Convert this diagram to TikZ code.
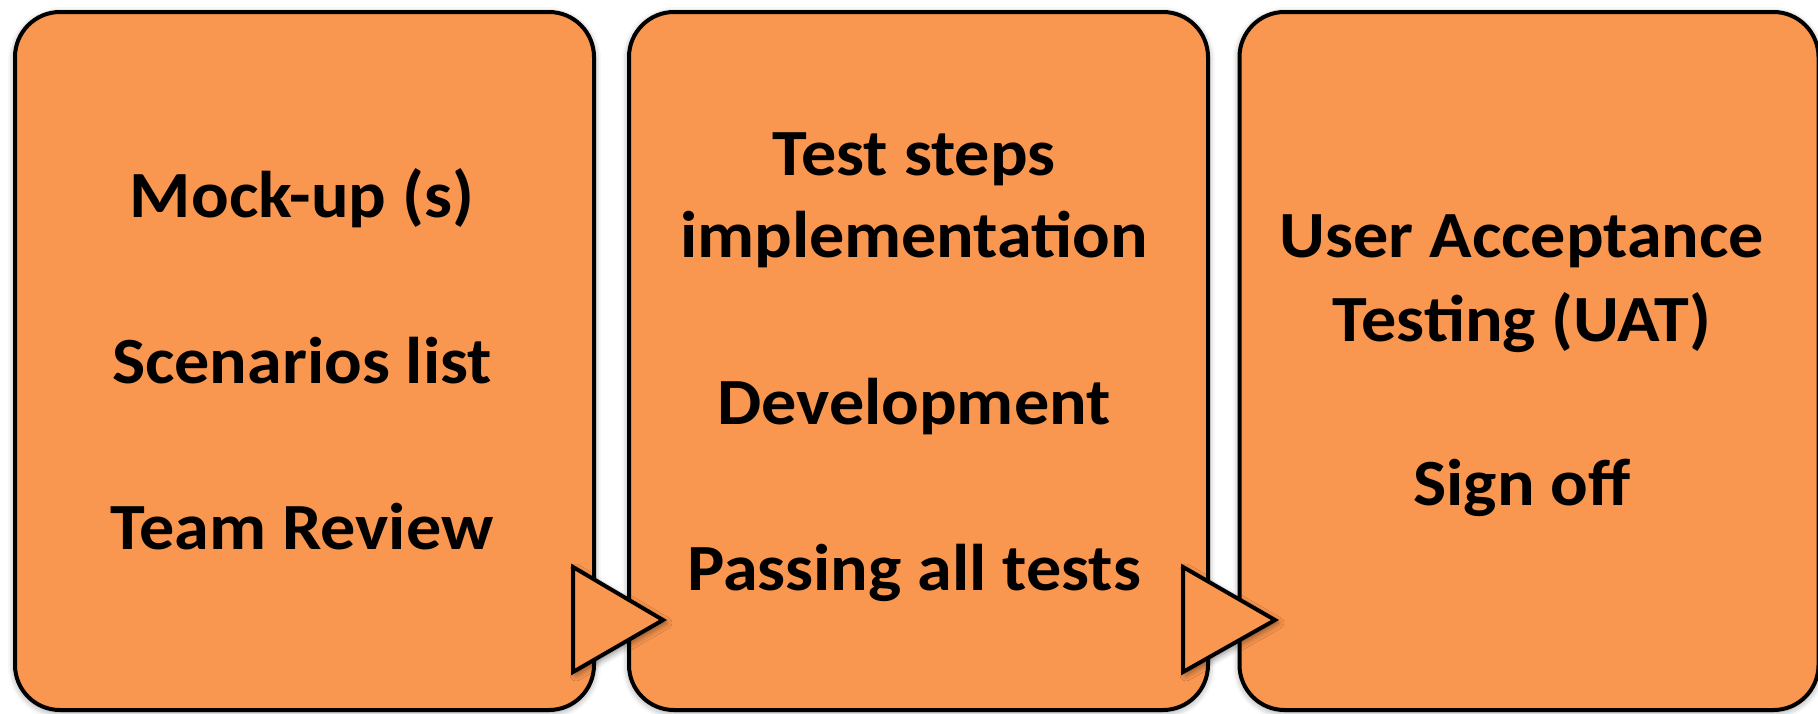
\documentclass[tikz,border=0pt]{standalone}
\usepackage{fontspec}
\setmainfont{Carlito}[FakeStretch=1.063]
\usepackage{tikz}
\usetikzlibrary{positioning,shadows.blur}
\definecolor{stageorange}{RGB}{249,150,80}

\tikzset{
  stagebox/.style={draw=black, line width=4pt, fill=stageorange, rounded corners=45pt,
    minimum width=579pt, minimum height=698pt, inner sep=0pt,
    blur shadow={shadow xshift=0pt, shadow yshift=-2pt, shadow blur radius=7pt, shadow opacity=45}},
  stagetext/.style={anchor=base, inner sep=0pt, font=\bfseries\fontsize{66}{81}\selectfont},
  stagearrow/.style={draw=black, line width=4pt, line join=miter, fill=stageorange,
    blur shadow={shadow xshift=3pt, shadow yshift=-3pt, shadow blur radius=6pt, shadow opacity=45}}
}

\begin{document}
\begin{tikzpicture}[x=1pt, y=-1pt]
  \useasboundingbox (0,0) rectangle (1818,713);
  % the three stages
  \node[stagebox] (mockbox) at (304.5,361) {};
  \node[stagebox] (devbox) at (918.5,361) {};
  \node[stagebox] (uatbox) at (1529,361) {};
  % hand-over arrows
  \coordinate (mockarrow) at (573,620);
  \coordinate (devarrow) at (1183,620);
  \draw[stagearrow] (mockarrow) ++(0,-53) -- ++(90,53) -- ++(-90,52) -- cycle;
  \draw[stagearrow] (devarrow) ++(0,-53) -- ++(92,53) -- ++(-92,52) -- cycle;
  % texts
  \node[stagetext] (mockup) at (302,217) {Mock-up (s)};
  \node[stagetext] (scenarios) at (302,383) {Scenarios list};
  \node[stagetext] (review) at (302,549) {Team Review};
  \node[stagetext] (teststeps) at (914,175) {Test steps};
  \node[stagetext] (implement) at (914,257) {implementation};
  \node[stagetext] (develop) at (914,424) {Development};
  \node[stagetext] (passing) at (914,590) {Passing all tests};
  \node[stagetext] (useracc) at (1522,257) {User Acceptance};
  \node[stagetext] (testing) at (1522,341) {Testing (UAT)};
  \node[stagetext] (signoff) at (1522,505) {Sign off};
\end{tikzpicture}
\end{document}
